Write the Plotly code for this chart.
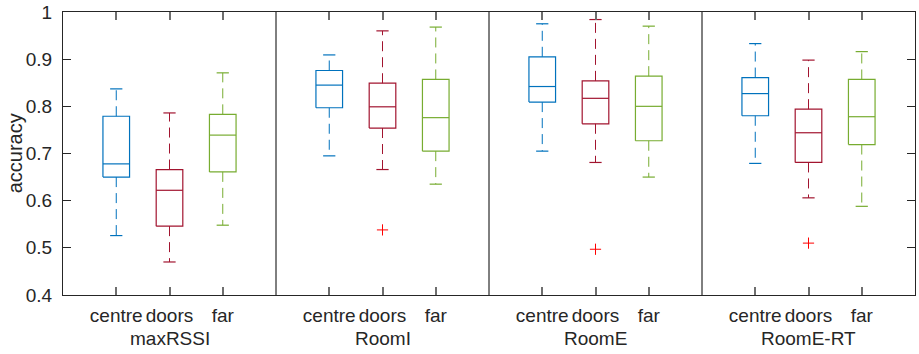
import plotly.graph_objects as go

# ---- data ----
groups = ["maxRSSI", "RoomI", "RoomE", "RoomE-RT"]
categories = ["centre", "doors", "far"]
colors = ["#0072BD", "#A2142F", "#77AC30"]

# per group, per category: [lower whisker, Q1, median, Q3, upper whisker]
lower_whisker = [[0.526, 0.470, 0.548], [0.695, 0.666, 0.635], [0.705, 0.681, 0.650], [0.679, 0.606, 0.588]]
q1 = [[0.650, 0.546, 0.661], [0.797, 0.754, 0.705], [0.809, 0.763, 0.727], [0.780, 0.681, 0.719]]
median = [[0.678, 0.622, 0.739], [0.845, 0.799, 0.776], [0.842, 0.817, 0.800], [0.827, 0.744, 0.778]]
q3 = [[0.779, 0.666, 0.783], [0.876, 0.849, 0.857], [0.905, 0.854, 0.864], [0.861, 0.794, 0.857]]
upper_whisker = [[0.837, 0.786, 0.871], [0.909, 0.960, 0.968], [0.975, 0.984, 0.970], [0.933, 0.898, 0.916]]
# outliers: (group index, category index, value)
outliers = [(1, 1, 0.538), (2, 1, 0.497), (3, 1, 0.510)]

y_ticks = [0.4, 0.5, 0.6, 0.7, 0.8, 0.9, 1.0]
y_tick_labels = ["0.4", "0.5", "0.6", "0.7", "0.8", "0.9", "1"]

# ---- layout helpers ----
BOX_HALF = 0.25
CAP_HALF = 0.115
slot = len(categories) + 1

def pos(g, c):
    return g * slot + c + 1

fig = go.Figure()
tickvals, ticktext = [], []
for ci, cat in enumerate(categories):
    bx, by, wx, wy, cx, cy = [], [], [], [], [], []
    for gi in range(len(groups)):
        p = pos(gi, ci)
        tickvals.append(p); ticktext.append(cat)
        lo, a, m, b, hi = lower_whisker[gi][ci], q1[gi][ci], median[gi][ci], q3[gi][ci], upper_whisker[gi][ci]
        bx += [p - BOX_HALF, p + BOX_HALF, p + BOX_HALF, p - BOX_HALF, p - BOX_HALF, None,
               p - BOX_HALF, p + BOX_HALF, None]
        by += [a, a, b, b, a, None, m, m, None]
        wx += [p, p, None, p, p, None]
        wy += [b, hi, None, a, lo, None]
        cx += [p - CAP_HALF, p + CAP_HALF, None, p - CAP_HALF, p + CAP_HALF, None]
        cy += [hi, hi, None, lo, lo, None]
    col = colors[ci]
    fig.add_trace(go.Scatter(x=wx, y=wy, mode="lines", line=dict(color=col, width=1, dash="10px,6px"),
                             hoverinfo="skip", showlegend=False))
    fig.add_trace(go.Scatter(x=bx, y=by, mode="lines", line=dict(color=col, width=1.2),
                             hoverinfo="skip", showlegend=False))
    fig.add_trace(go.Scatter(x=cx, y=cy, mode="lines", line=dict(color=col, width=1.2),
                             hoverinfo="skip", showlegend=False))

fig.add_trace(go.Scatter(
    x=[pos(g, c) for g, c, v in outliers], y=[v for g, c, v in outliers],
    mode="markers", marker=dict(symbol="cross-thin", size=8, line=dict(color="#FF0000", width=1)),
    showlegend=False, hoverinfo="skip"))

# group separators
for gi in range(1, len(groups)):
    fig.add_shape(type="line", xref="x", yref="paper", x0=gi * slot, x1=gi * slot, y0=0, y1=1,
                  line=dict(color="#000000", width=1))

# group labels
for gi, g in enumerate(groups):
    fig.add_annotation(x=pos(gi, 1), y=-0.155, xref="x", yref="paper", text=g, showarrow=False,
                       yanchor="middle", font=dict(size=19, color="#262626"))

# y-axis title
fig.add_annotation(x=-0.0565, y=0.5, xref="paper", yref="paper", text="accuracy", showarrow=False,
                   textangle=-90, xanchor="center", yanchor="middle", font=dict(size=20, color="#262626"))

fig.update_layout(
    width=919, height=354,
    margin=dict(l=63, r=4, t=12, b=59),
    plot_bgcolor="white", paper_bgcolor="white",
    font=dict(family="Liberation Sans, Arial, sans-serif", size=19, color="#262626"),
)
fig.update_xaxes(range=[0, slot * len(groups)], tickvals=tickvals, ticktext=ticktext,
                 showgrid=False, zeroline=False, showline=True, linecolor="#262626", linewidth=1,
                 mirror="ticks", ticks="inside", ticklen=8, tickcolor="#6e6e6e", tickwidth=1.5,
                 tickfont=dict(size=19), ticklabelstandoff=3, automargin=False)
fig.update_yaxes(range=[0.4, 1.0], tickvals=y_ticks, ticktext=y_tick_labels,
                 showgrid=False, zeroline=False, showline=True, linecolor="#262626", linewidth=1,
                 mirror="ticks", ticks="inside", ticklen=8, tickcolor="#262626", tickwidth=1,
                 tickfont=dict(size=19), ticklabelstandoff=6, automargin=False)

fig.write_html("out.html", config={"displayModeBar": False},
               post_script="document.body.style.margin='0';")
